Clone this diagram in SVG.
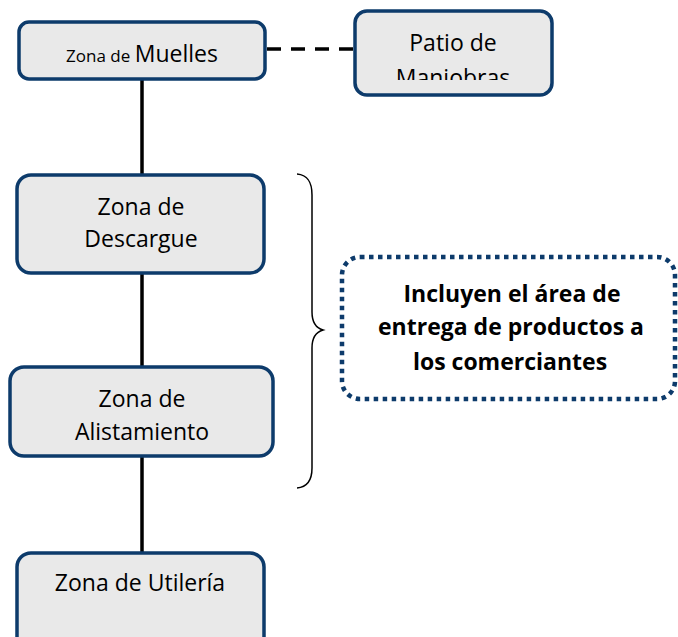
<svg xmlns="http://www.w3.org/2000/svg" width="678" height="637" viewBox="0 0 678 637">
<style>
.box{fill:#e9e9e9;stroke:#0d3b6b;stroke-width:3.5}
.t{font-family:"Open Sans","Liberation Sans",sans-serif;font-size:23px;fill:#000;text-anchor:middle}
.b{font-weight:bold}
.c{stroke:#000;stroke-width:3.5;fill:none}
</style>
<defs>
<clipPath id="pc"><rect x="355" y="11" width="197" height="69"/></clipPath>
</defs>
<rect width="678" height="637" fill="#fff"/>
<g id="connectors">
<line class="c" x1="142" y1="79" x2="142" y2="175"/>
<line class="c" x1="142" y1="273" x2="142" y2="367"/>
<line class="c" x1="142" y1="456" x2="142" y2="552"/>
<line class="c" x1="267" y1="49" x2="354" y2="49" stroke-dasharray="14 10"/>
</g>
<g id="muelles">
<rect class="box" x="19" y="22" width="246" height="57" rx="10"/>
<text class="t" x="142" y="62"><tspan font-size="17">Zona de </tspan><tspan font-size="23">Muelles</tspan></text>
</g>
<g id="patio">
<rect class="box" x="355" y="11" width="197" height="84" rx="12"/>
<g clip-path="url(#pc)">
<text class="t" x="453" y="51">Patio de</text>
<text class="t" x="453" y="86">Maniobras</text>
</g>
</g>
<g id="descargue">
<rect class="box" x="17" y="175" width="247" height="98" rx="14"/>
<text class="t" x="141" y="215">Zona de</text>
<text class="t" x="141" y="247">Descargue</text>
</g>
<g id="alistamiento">
<rect class="box" x="10" y="367" width="263" height="89" rx="14"/>
<text class="t" x="142" y="407">Zona de</text>
<text class="t" x="142" y="440">Alistamiento</text>
</g>
<g id="utileria">
<rect class="box" x="17" y="553" width="247" height="100" rx="14"/>
<text class="t" x="140" y="591">Zona de Utilería</text>
</g>
<g id="brace">
<path d="M297,174 C308,175 312,182 312,195 L312,312 C312,322 316,328 323,330 C316,332 312,338 312,348 L312,468 C312,480 308,487 297,488" fill="none" stroke="#000" stroke-width="1.5"/>
</g>
<g id="nota">
<rect x="342" y="257" width="333" height="142" rx="18" fill="#fff" stroke="#0d3b6b" stroke-width="4.5" stroke-dasharray="4.5 4.5"/>
<text class="t b" font-size="20" x="512" y="302">Incluyen el área de</text>
<text class="t b" font-size="21.5" x="511" y="335">entrega de productos a</text>
<text class="t b" font-size="24" x="510" y="370">los comerciantes</text>
</g>
</svg>
